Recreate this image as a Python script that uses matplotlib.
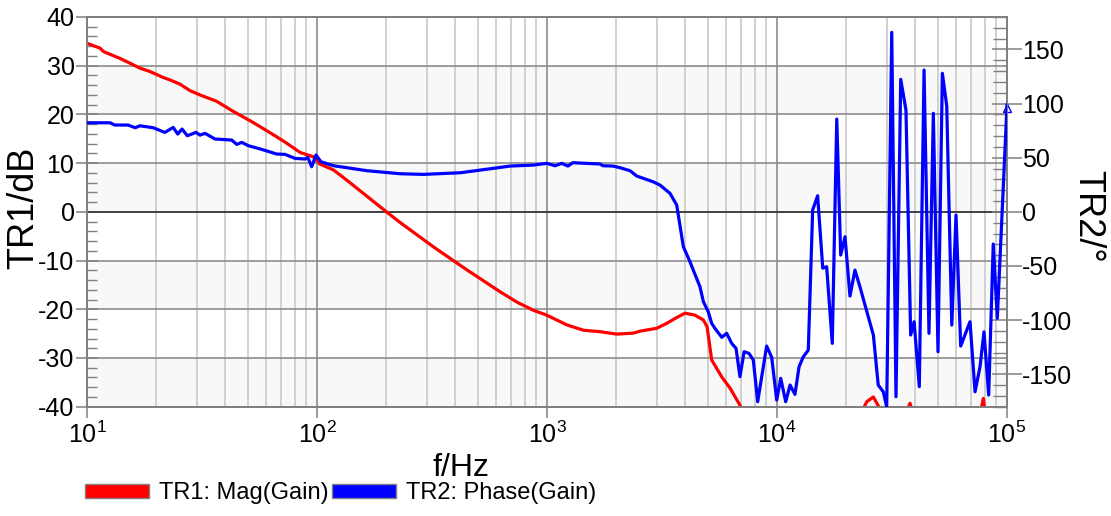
import numpy as np
import matplotlib
matplotlib.use("Agg")
from matplotlib import pyplot as plt
from matplotlib.patches import Patch
from matplotlib.ticker import LogLocator, MultipleLocator, NullFormatter

plt.rcParams['font.family'] = ['Liberation Sans', 'DejaVu Sans']
plt.rcParams['mathtext.default'] = 'regular'
plt.rcParams['axes.unicode_minus'] = False

# TR1: magnitude of gain (dB) vs frequency (Hz)
mag_freq = [10, 11.4, 11.8, 13.9, 15.4, 17.0, 18.8, 21.4, 22.9, 25.4, 28.0, 31.0,
            36.6, 43.3, 51.2, 56.5, 66.8, 73.8, 84.4, 96.4, 103, 118, 139, 198,
            230, 321, 448, 512, 625, 738, 872, 997, 1219, 1439, 1700, 2009, 2371,
            2535, 2998, 3311, 3664, 3981, 4399, 4786, 4966, 5200, 5754, 6252, 6902,
            8433, 12590, 20760, 24550, 26240, 28060, 32590, 36370, 37880, 39430,
            56490, 75510, 78880, 81850, 100000]
mag_db = [34.6, 33.6, 32.9, 31.5, 30.5, 29.5, 28.8, 27.6, 27.1, 26.2, 24.9, 24.0,
          22.7, 20.6, 18.7, 17.5, 15.4, 14.1, 12.2, 11.3, 9.8, 8.6, 6.0, 0.2,
          -2.2, -7.2, -11.9, -13.7, -16.4, -18.5, -20.2, -21.2, -23.2, -24.3, -24.6,
          -25.1, -24.9, -24.5, -23.9, -22.9, -21.7, -20.8, -21.2, -22.2, -23.6,
          -30.4, -33.9, -36.2, -39.7, -47, -52, -46, -39.0, -38.0, -40.5, -45,
          -41.5, -39.3, -42, -48, -43, -38.3, -44, -50]

# TR2: phase of gain (deg) vs frequency (Hz)
phase_freq = [10, 12.6, 13.2, 15.1, 16.2, 17.0, 19.4, 21.8, 23.7, 24.8, 25.9, 27.3,
              29.8, 31.0, 32.6, 36.0, 42.6, 44.8, 47.1, 50.3, 57.5, 66.8, 72.6, 80.2,
              88.7, 91.2, 94.8, 99.0, 104, 118, 165, 230, 290, 419, 585, 691, 872,
              997, 1084, 1159, 1232, 1295, 1700, 1751, 1936, 2075, 2296, 2455, 2891,
              3097, 3425, 3664, 3916, 4159, 4325, 4624, 4786, 5024, 5200, 5370, 5754,
              6043, 6353, 6637, 6902, 7194, 7551, 7889, 8241, 9016, 9484, 9970, 10380,
              10910, 11400, 11970, 12470, 13010, 13680, 14290, 15020, 15810, 16440,
              17390, 18190, 18920, 19760, 20760, 21820, 22940, 26240, 27550, 28970,
              29990, 31540, 32910, 34510, 36370, 38120, 39460, 41560, 43590, 45790,
              47830, 50120, 52360, 54700, 57540, 60020, 62900, 69050, 72610, 76330,
              79430, 83250, 87140, 90750, 100000]
phase_deg = [82.3, 82.3, 80.2, 80.2, 77.7, 79.5, 77.7, 73.4, 78.0, 71.9, 76.5, 70.3,
             73.4, 70.9, 72.5, 67.3, 66.3, 62.3, 64.2, 61.1, 57.7, 53.4, 53.1, 49.4,
             48.8, 50.3, 41.7, 52.5, 46.3, 42.6, 38.0, 35.2, 34.6, 36.1, 40.2, 42.3,
             43.2, 44.8, 42.6, 44.8, 42.3, 45.4, 44.2, 42.6, 42.3, 40.8, 38.0, 33.1,
             27.8, 24.8, 17.1, 6.3, -32.2, -44.8, -53.8, -69.2, -83.0, -92.3, -103.0,
             -107.6, -115.9, -112.2, -121.5, -126.1, -152.3, -129.2, -130.7, -136.9,
             -175.4, -124.0, -134.4, -173.9, -153.8, -175.4, -160.0, -168.6, -143.1,
             -133.9, -127.7, 1.7, 14.9, -52.0, -50.7, -121.5, 85.7, -39.9, -23.0,
             -77.8, -53.8, -69.2, -113.8, -160.0, -166.2, -180.0, 165.8, -170.8,
             122.4, 94.0, -113.8, -101.5, -161.5, 131.0, -112.2, 91.0, -129.2, 128.0,
             97.7, -104.6, -3.0, -124.0, -101.5, -166.2, -143.1, -110.8, -169.2,
             -29.7, -98.4, 98.7]

W, H = 1111, 516
fig = plt.figure(figsize=(W / 100, H / 100), dpi=100)
ax = fig.add_axes([87 / W, 1 - 406.7 / H, 920 / W, 389.7 / H])

# alternating light bands
for lo in (-40, -20, 0, 20):
    ax.axhspan(lo, lo + 10, color='#f8f8f8', lw=0, zorder=0.1)

ax.set_xscale('log')
ax.set_xlim(10, 1e5)
ax.set_ylim(-40, 40)
ax.set_axisbelow(True)
ax.xaxis.set_major_locator(LogLocator(base=10, numticks=10))
ax.xaxis.set_minor_locator(LogLocator(base=10, subs=np.arange(2, 10), numticks=10))
ax.xaxis.set_minor_formatter(NullFormatter())
ax.yaxis.set_major_locator(MultipleLocator(10))
ax.yaxis.set_minor_locator(MultipleLocator(2))
ax.grid(which='major', axis='x', color='#8c8c8c', lw=1.2)
ax.grid(which='minor', axis='x', color='#cacaca', lw=1.2)
ax.grid(which='major', axis='y', color='#8c8c8c', lw=1.2)
ax.axhline(0, color='#3c3c3c', lw=1.3, zorder=0.6)

ax.tick_params(axis='x', which='major', direction='out', length=8, width=1.1,
               color='#808080', labelsize=18, pad=3)
ax.tick_params(axis='x', which='minor', length=0)
ax.tick_params(axis='y', which='major', direction='inout', length=16, width=1.1,
               color='#808080', labelsize=18, pad=1)
ax.tick_params(axis='y', which='minor', direction='in', length=7, width=1.0,
               color='#808080')

ax.plot(mag_freq, mag_db, color='#ff0000', lw=2.3, zorder=3)

ax2 = ax.twinx()
ax2.set_ylim(-180, 180)
ax2.yaxis.set_major_locator(MultipleLocator(50))
ax2.yaxis.set_minor_locator(MultipleLocator(10))
ax2.tick_params(axis='y', which='major', direction='inout', length=22, width=1.1,
                color='#808080', labelsize=18, pad=0)
ax2.tick_params(axis='y', which='minor', direction='in', length=10, width=1.0,
                color='#808080')
ax2.plot(phase_freq, phase_deg, color='#0000ff', lw=2.3, zorder=3)
ax2.plot(phase_freq[-1:], [95.9], marker='^', ms=6, mfc='none', mec='#0000ff',
         mew=1, ls='none', clip_on=False)

for a in (ax, ax2):
    for sp in a.spines.values():
        sp.set_color('#808080')
        sp.set_linewidth(1.3)

fig.text(24 / W, 1 - 208 / H, 'TR1/dB', rotation=90, ha='center', va='center',
         fontsize=26)
fig.text(1088 / W, 1 - 216 / H, 'TR2/\u00b0', rotation=-90, ha='center',
         va='center', fontsize=26)
fig.text(461 / W, 1 - 476 / H, 'f/Hz', ha='center', va='baseline', fontsize=23)

handles = [Patch(facecolor='#ff0000', edgecolor='#808080', label='TR1: Mag(Gain)'),
           Patch(facecolor='#0000ff', edgecolor='#808080', label='TR2: Phase(Gain)')]
fig.legend(handles=handles, loc='center left', bbox_to_anchor=(85 / W, 1 - 493 / H),
           ncol=2, frameon=False, fontsize=17, handlelength=2.7, handleheight=0.55,
           handletextpad=0.42, columnspacing=0.15, borderaxespad=0, borderpad=0)

fig.savefig('out.png', dpi=100)
